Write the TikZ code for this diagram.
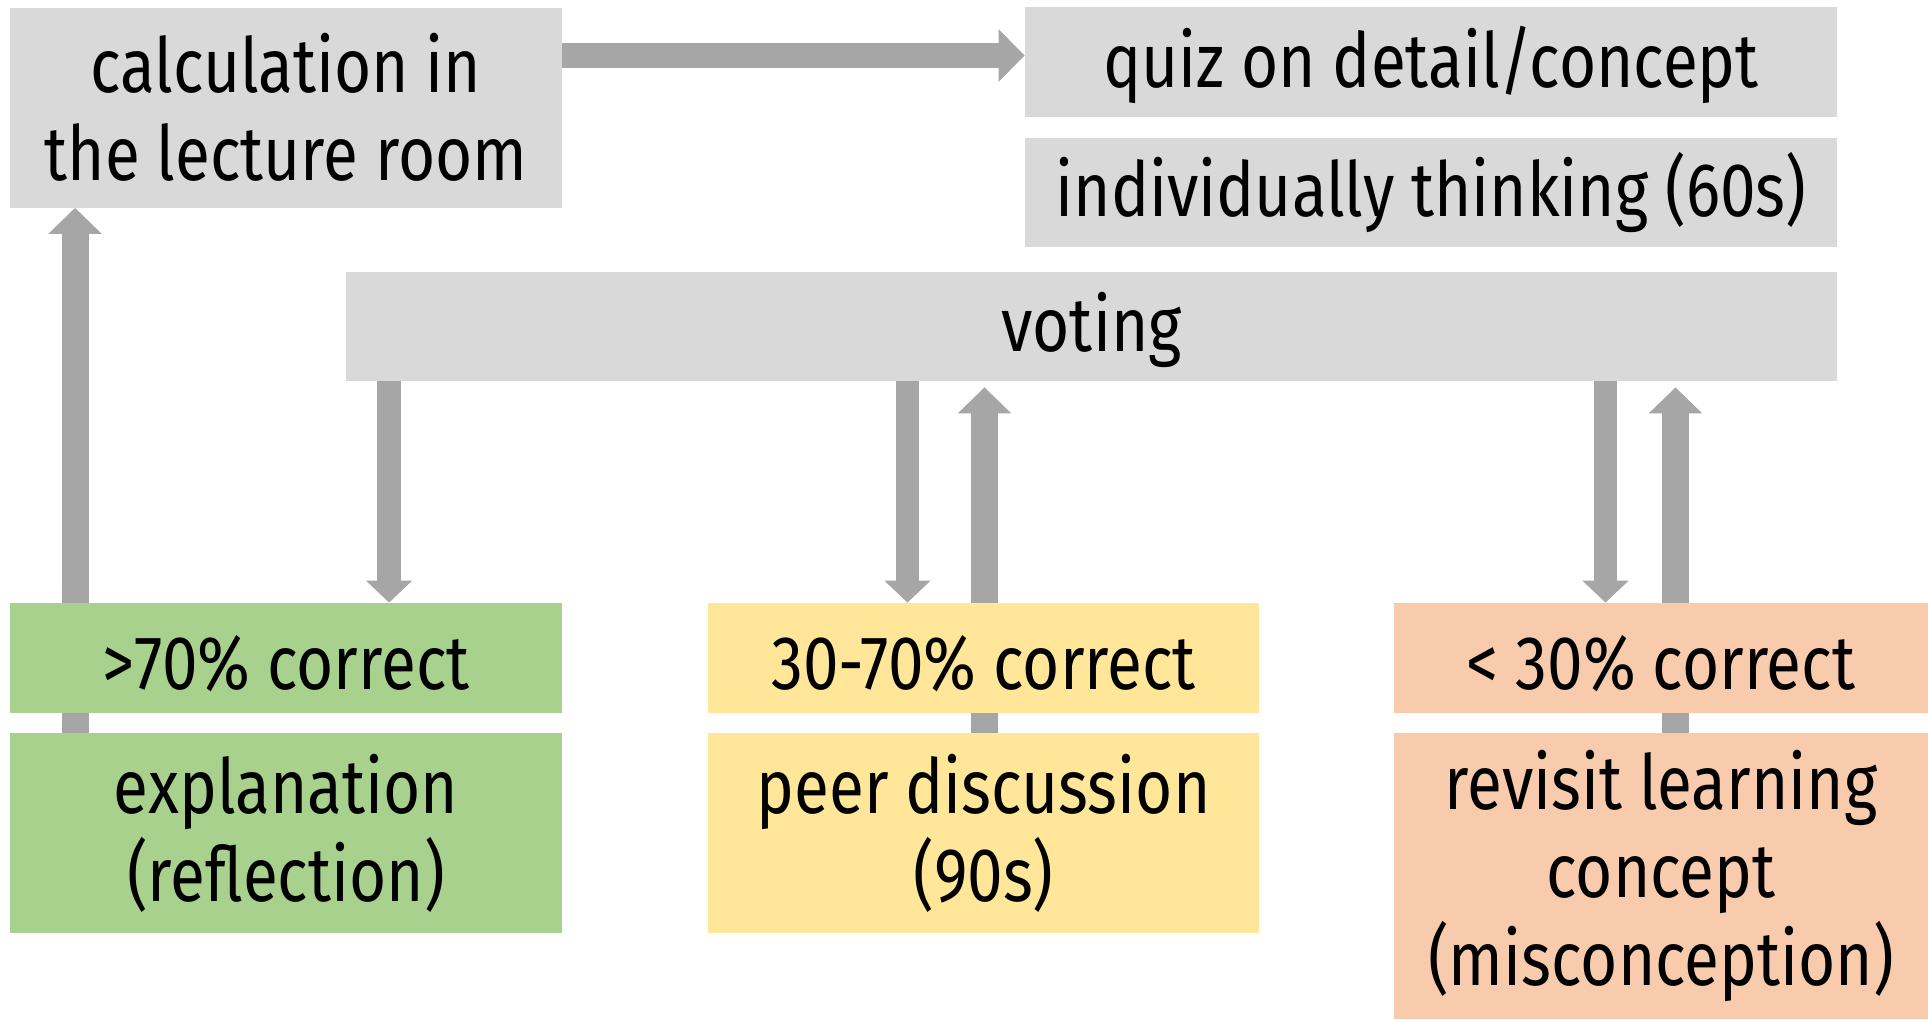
\documentclass[tikz,border=0pt]{standalone}
\usepackage{fontspec}
\setmainfont[FakeStretch=0.84]{Fira Sans}
\usetikzlibrary{arrows.meta,backgrounds}
\definecolor{boxgray}{HTML}{D9D9D9}
\definecolor{arrowgray}{HTML}{A6A6A6}
\definecolor{highgreen}{HTML}{A9D18E}
\definecolor{midyellow}{HTML}{FFE699}
\definecolor{lowpeach}{HTML}{F8CBAD}

\begin{document}
\begin{tikzpicture}[x=0.5pt,y=-0.5pt,
		every node/.style={inner sep=0pt, align=center, font=\fontsize{38}{44}\selectfont},
		box/.style={fill=boxgray},
		single/.style={text height=33pt},
		upflow/.style={draw=arrowgray, line width=13.5pt, -{Triangle[width=26pt,length=13pt]}},
		downflow/.style={draw=arrowgray, line width=11.75pt, -{Triangle[width=22.5pt,length=11pt]}},
		rightflow/.style={draw=arrowgray, line width=12.5pt, -{Triangle[width=25.5pt,length=13pt]}}]
		\useasboundingbox (0,0) rectangle (1928,1019);
		% top row
		\node[box, minimum width=276pt, minimum height=100pt] (calc) at (286,107.5) {calculation in\\the lecture room};
		\node[box, single, minimum width=406pt, minimum height=55pt] (quiz) at (1431,62.25) {quiz on detail/concept};
		\node[box, single, minimum width=406pt, minimum height=54.5pt] (think) at (1431,192) {individually thinking (60s)};
		\node[box, single, minimum width=745.5pt, minimum height=54.5pt] (vote) at (1091.5,326.5) {voting};
		% outcomes
		\node[fill=highgreen, single, minimum width=276pt, minimum height=55pt] (hightop) at (286,658) {>70\% correct};
		\node[fill=highgreen, minimum width=276pt, minimum height=100pt] (highbot) at (286,833) {explanation\\(reflection)};
		\node[fill=midyellow, single, minimum width=275.5pt, minimum height=55pt] (midtop) at (983.5,658) {30-70\% correct};
		\node[fill=midyellow, minimum width=275.5pt, minimum height=100pt] (midbot) at (983.5,833) {peer discussion\\(90s)};
		\node[fill=lowpeach, single, minimum width=267pt, minimum height=55pt] (lowtop) at (1661,658) {< 30\% correct};
		\node[fill=lowpeach, minimum width=267pt, minimum height=143pt] (lowbot) at (1661,876) {revisit learning\\concept\\(misconception)};
		% arrows behind the boxes
		\begin{scope}[on background layer]
			\fill[white] (0,0) rectangle (1928,1019);
			\draw[rightflow] ([yshift=26pt]calc.east) -- ([yshift=26pt]calc.east -| quiz.west);
			\draw[upflow] ([xshift=32.75pt]highbot.north west) -- ([xshift=32.75pt]calc.south west);
			\draw[downflow] ([xshift=21.75pt]vote.south west) -- ([xshift=21.75pt]vote.south west |- hightop.north);
			\draw[downflow] ([xshift=-38pt]midtop.north |- vote.south) -- ([xshift=-38pt]midtop.north);
			\draw[upflow] ([xshift=0.5pt]midbot.north) -- ([xshift=0.5pt,yshift=-3pt]midbot.north |- vote.south);
			\draw[downflow] ([xshift=-27.75pt]lowtop.north |- vote.south) -- ([xshift=-27.75pt]lowtop.north);
			\draw[upflow] ([xshift=7.25pt]lowbot.north) -- ([xshift=7.25pt,yshift=-3pt]lowbot.north |- vote.south);
		\end{scope}
	\end{tikzpicture}
\end{document}
